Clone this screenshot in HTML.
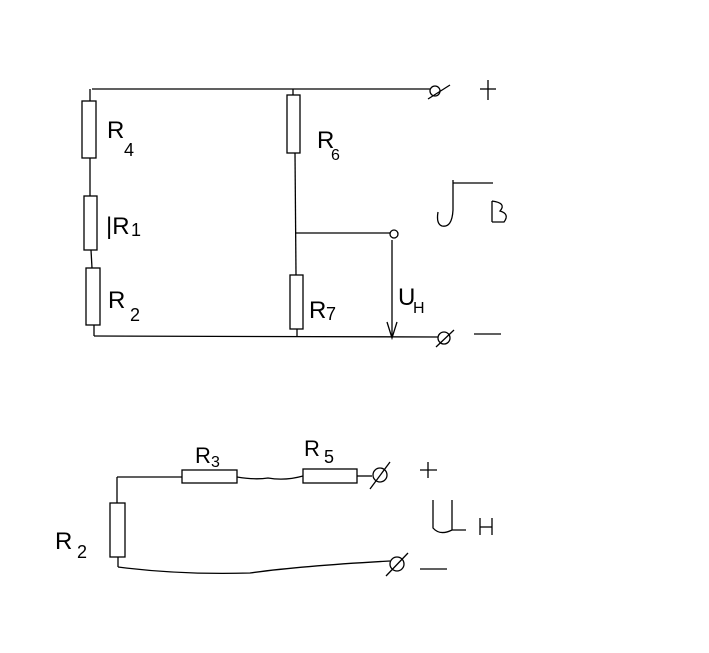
<!DOCTYPE html>
<html><head><meta charset="utf-8"><style>
html,body{margin:0;padding:0;background:#fff;width:709px;height:653px;overflow:hidden}
svg{display:block}
text{font-family:"Liberation Sans",sans-serif;fill:#000}
</style></head><body>
<svg width="709" height="653" viewBox="0 0 709 653" xmlns="http://www.w3.org/2000/svg">
<g stroke="#000" stroke-width="1.3" fill="none">
<!-- top circuit -->
<line x1="92" y1="89" x2="430" y2="89"/>
<line x1="90" y1="89" x2="90" y2="101"/>
<rect x="82" y="101" width="14" height="57"/>
<line x1="90" y1="158" x2="90" y2="196"/>
<rect x="84" y="196" width="13" height="54"/>
<line x1="91" y1="250" x2="92" y2="268"/>
<rect x="86" y="268" width="14" height="57"/>
<line x1="94" y1="325" x2="94" y2="336"/>
<line x1="94" y1="336" x2="438" y2="337"/>
<circle cx="435" cy="91" r="5"/>
<line x1="428" y1="99" x2="450" y2="85"/>
<circle cx="444" cy="338" r="6"/>
<line x1="436" y1="347" x2="454" y2="330"/>
<line x1="474" y1="334" x2="501" y2="334"/>
<line x1="480" y1="89" x2="496" y2="89"/>
<line x1="488" y1="80" x2="488" y2="100"/>
<!-- R6 / R7 -->
<line x1="293" y1="89" x2="293" y2="95"/>
<rect x="287" y="95" width="13" height="58"/>
<line x1="295" y1="153" x2="296" y2="275"/>
<rect x="290" y="275" width="13" height="54"/>
<line x1="297" y1="329" x2="297" y2="337"/>
<line x1="296" y1="233" x2="390" y2="233"/>
<circle cx="394" cy="234" r="4"/>
<line x1="392" y1="240" x2="392" y2="336"/>
<polyline points="387,322 392,338 397,322"/>
<!-- UB -->
<line x1="453" y1="183" x2="493" y2="183"/>
<path d="M453 180 L453 210 Q452 228 442 226 Q436 224 438 212"/>
<path d="M492 201 L492 222 M492 201 Q507 203 500 211 Q510 214 504 222 L492 222"/>
<!-- bottom circuit -->
<line x1="117" y1="477" x2="182" y2="477"/>
<rect x="182" y="470" width="55" height="13"/>
<path d="M237 477 Q255 480 268 478 Q285 481 303 476"/>
<rect x="303" y="469" width="54" height="14"/>
<line x1="357" y1="476" x2="372" y2="476"/>
<circle cx="380" cy="475" r="7"/>
<line x1="370" y1="489" x2="390" y2="462"/>
<line x1="420" y1="470" x2="437" y2="470"/>
<line x1="428" y1="462" x2="428" y2="478"/>
<line x1="117" y1="477" x2="117" y2="503"/>
<rect x="110" y="503" width="15" height="54"/>
<line x1="118" y1="557" x2="118" y2="567"/>
<path d="M118 567 Q180 575 250 573 Q300 566 390 561"/>
<circle cx="397" cy="564" r="7"/>
<line x1="386" y1="576" x2="408" y2="553"/>
<line x1="420" y1="569" x2="447" y2="569"/>
<path d="M433 500 L433 528 Q440 536 452 530 L452 500 M452 530 L466 530"/>
<line x1="480" y1="518" x2="480" y2="535"/>
<line x1="492" y1="518" x2="492" y2="535"/>
<line x1="480" y1="527" x2="492" y2="527"/>
</g>
<text x="107" y="138" font-size="24">R</text><text x="124" y="156" font-size="18">4</text>
<text x="106" y="234" font-size="24">|R</text><text x="131" y="236" font-size="18">1</text>
<text x="108" y="308" font-size="24">R</text><text x="130" y="321" font-size="18">2</text>
<text x="317" y="148" font-size="24">R</text><text x="331" y="160" font-size="16">6</text>
<text x="309" y="318" font-size="24">R</text><text x="326" y="320" font-size="18">7</text>
<text x="398" y="305" font-size="24">U</text><text x="413" y="313" font-size="16">H</text>
<text x="195" y="463" font-size="22">R</text><text x="211" y="467" font-size="16">3</text>
<text x="304" y="456" font-size="22">R</text><text x="324" y="463" font-size="18">5</text>
<text x="55" y="549" font-size="24">R</text><text x="77" y="558" font-size="18">2</text>
</svg>
</body></html>
